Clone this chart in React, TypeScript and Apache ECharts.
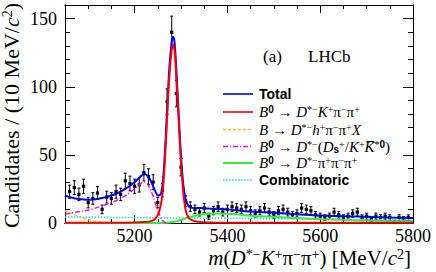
import React, { useEffect, useRef } from 'react';
import * as echarts from 'echarts';

// ---- data: B0 -> D*- K+ pi- pi+ invariant mass, 10 MeV bins ----
const binMass = [
  5060, 5070, 5080, 5090, 5100, 5110, 5120, 5130, 5140, 5150,
  5160, 5170, 5180, 5190, 5200, 5210, 5220, 5230, 5240, 5250,
  5260, 5270, 5280, 5290, 5300, 5310, 5320, 5330, 5340, 5350,
  5360, 5370, 5380, 5390, 5400, 5410, 5420, 5430, 5440, 5450,
  5460, 5470, 5480, 5490, 5500, 5510, 5520, 5530, 5540, 5550,
  5560, 5570, 5580, 5590, 5600, 5610, 5620, 5630, 5640, 5650,
  5660, 5670, 5680, 5690, 5700, 5710, 5720, 5730, 5740, 5750,
  5760, 5770, 5780, 5790,
];
const candidates = [
  23, 26, 21, 27, 15, 18, 22, 10, 19, 18,
  23, 21, 31, 29, 27, 28, 37, 34, 30, 15,
  24, 89, 140, 95, 41, 16, 12, 10, 8, 11,
  5, 9, 12, 8, 10, 12, 11, 10, 12, 9,
  7, 9, 11, 8, 6, 9, 10, 8, 6, 7,
  11, 10, 9, 6, 5, 4, 5, 8, 6, 4,
  5, 7, 8, 4, 5, 3, 5, 4, 5, 4,
  1, 4, 3, 4,
];

// Total fit
const totalMass = [5050, 5060, 5070, 5080, 5090, 5100, 5110, 5120, 5130, 5140, 5150, 5160, 5170, 5180, 5190, 5200, 5210,
  5215, 5220, 5225, 5230, 5235, 5240, 5245, 5250, 5255, 5260, 5265, 5270, 5275, 5280, 5283, 5286,
  5290, 5295, 5300, 5305, 5310, 5315, 5320, 5330, 5340, 5350, 5360, 5380, 5400,
  5450, 5500, 5550, 5600, 5650, 5700, 5750, 5800];
const totalFit = [20, 19, 18.2, 17.6, 17.2, 17, 17.2, 17.6, 18.3, 19.2, 20.2, 21.5, 23, 25, 27.3, 30, 33.2,
  34.8, 35.8, 35.5, 33.8, 30.8, 27, 23, 20.3, 20.5, 27, 50, 83, 114, 133, 136.5, 133,
  112, 80, 49, 28, 17.5, 13, 11.5, 11, 11, 10.8, 10.6, 10.3, 10,
  8.4, 7.5, 6.5, 5.5, 5, 4.5, 4, 3.7];

// Signal B0 -> D*- K+ pi- pi+
const signalMass = [5050, 5150, 5200, 5220, 5230, 5240, 5245, 5250, 5255, 5260, 5265, 5270, 5275, 5280, 5283, 5286,
  5290, 5295, 5300, 5305, 5310, 5315, 5320, 5330, 5345, 5370, 5450, 5800];
const signalFit = [0.1, 0.2, 0.4, 0.7, 1, 2, 3.5, 6, 11, 21, 44, 77, 108, 127, 131, 127,
  106, 75, 44, 22, 9.5, 4.5, 2.6, 1.3, 0.6, 0.3, 0.2, 0.1];

// B -> D*- h+ pi- pi+ X
const partRecoMass = [5050, 5060, 5070, 5080, 5090, 5100, 5110, 5120, 5130, 5140, 5150, 5170, 5200];
const partRecoFit = [9, 7.5, 6, 4.6, 3.4, 2.4, 1.6, 1, 0.6, 0.3, 0.1, 0, 0];

// B0 -> D*- (Ds+ / K+ K*0bar)
const dsMass = [5050, 5075, 5100, 5125, 5150, 5175, 5200, 5210, 5215, 5220, 5225, 5230, 5235, 5240, 5245, 5250, 5255, 5260, 5265, 5270];
const dsFit = [6.5, 8, 9.5, 12, 15, 19, 25, 28, 29.5, 30, 29.5, 27.5, 24, 19.5, 14, 9.5, 5, 1.8, 0.5, 0];

// B0 -> D*- pi+ pi- pi+ (misID)
const misIdMass = [5050, 5250, 5270, 5280, 5290, 5300, 5310, 5320, 5330, 5340, 5350, 5360, 5380, 5400, 5420, 5450,
  5500, 5550, 5600, 5650, 5700, 5750, 5800];
const misIdFit = [0, 0, 0.2, 0.6, 1.3, 2.3, 3.4, 4.5, 5.3, 6, 6.5, 6.8, 7, 6.8, 6.4, 5.4,
  4.5, 3.6, 2.8, 2.3, 1.9, 1.5, 1.2];

// Combinatoric
const combMass = [5050, 5200, 5300, 5400, 5500, 5600, 5700, 5800];
const combFit = [4.4, 4, 3.7, 3.4, 3.1, 2.8, 2.5, 2.3];

const xTickLabels = [5200, 5400, 5600, 5800];
const xMajorTicks = [5200, 5400, 5600];
const yTickLabels = [0, 50, 100, 150];
const yMajorTicks = [50, 100, 150];

const X_MIN = 5050, X_MAX = 5800, Y_MIN = 0, Y_MAX = 160;

const SERIF = 'Liberation Serif';
const SANS = 'Liberation Sans';

const pairs = (xs: number[], ys: number[]) => xs.map((x, i) => [x, ys[i]]);

function richSet(size: number, supSize: number) {
  return {
    i: { fontFamily: SERIF, fontStyle: 'italic', fontSize: size, lineHeight: size, fill: '#000' },
    r: { fontFamily: SERIF, fontSize: size, lineHeight: size, fill: '#000' },
    sup: { fontFamily: SERIF, fontSize: supSize, lineHeight: supSize, verticalAlign: 'top', fill: '#000' },
    supb: { fontFamily: SANS, fontWeight: 'bold', fontSize: supSize, lineHeight: supSize, verticalAlign: 'top', fill: '#000' },
    subb: { fontFamily: SANS, fontWeight: 'bold', fontSize: supSize, lineHeight: supSize, verticalAlign: 'bottom', fill: '#000' },
  };
}

export default function App() {
  const ref = useRef<HTMLDivElement>(null);
  useEffect(() => {
    if (!ref.current) return;
    const chart = echarts.init(ref.current, undefined, { renderer: 'svg' });

    const axisLine = { show: true, onZero: false, lineStyle: { color: '#000', width: 1 } };
    const baseX = { type: 'value', min: X_MIN, max: X_MAX, splitLine: { show: false }, axisLine };
    const baseY = { type: 'value', min: Y_MIN, max: Y_MAX, splitLine: { show: false }, axisLine };
    const plain = (v: number) => String(v);

    const curve = (name: string, xs: number[], ys: number[], color: string, width: number, type: any) => ({
      name,
      type: 'line',
      data: pairs(xs, ys),
      showSymbol: false,
      symbol: 'none',
      smooth: 0.35,
      lineStyle: { color, width, type },
      silent: true,
    });

    const legendY = [94, 112, 129.5, 146.5, 163, 180];
    const legendStyles = [
      { color: '#0000ff', width: 1.6, dash: null },
      { color: '#ff0000', width: 1.6, dash: null },
      { color: '#ffc020', width: 1.5, dash: [3, 2] },
      { color: '#ff00ff', width: 1.5, dash: [5, 2, 1, 2] },
      { color: '#33ee33', width: 2, dash: null },
      { color: '#00e5e5', width: 1.5, dash: [1.5, 1.5] },
    ];
    const legendTexts = [
      '{t|Total}',
      '{i|B}{supb|0}{r| → }{i|D}{sup|*−}{i|K}{sup|+}{r|π}{sup|−}{r|π}{sup|+}',
      '{i|B}{r| → }{i|D}{sup|*−}{i|h}{sup|+}{r|π}{sup|−}{r|π}{sup|+}{i|X}',
      '{i|B}{supb|0}{r| → }{i|D}{sup|*−}{r|(}{i|D}{subb|s}{sup|+}{r|/}{i|K}{sup|+}{i|K\u0305}{sup|*}{supb|0}{r|)}',
      '{i|B}{supb|0}{r| → }{i|D}{sup|*−}{r|π}{sup|+}{r|π}{sup|−}{r|π}{sup|+}',
      '{t|Combinatoric}',
    ];
    const lr: any = { ...richSet(15, 10), t: { fontFamily: SANS, fontWeight: 'bold', fontSize: 14, lineHeight: 15, fill: '#000' } };

    const graphicEls: any[] = [];
    legendY.forEach((y, k) => {
      const s = legendStyles[k];
      graphicEls.push({
        type: 'line',
        shape: { x1: 223, y1: y, x2: 253, y2: y },
        style: { stroke: s.color, lineWidth: s.width, lineDash: s.dash || undefined },
        silent: true,
      });
      graphicEls.push({
        type: 'text',
        x: 259,
        y: y,
        style: { text: legendTexts[k], rich: lr, align: 'left', verticalAlign: 'middle', fill: '#000' },
        silent: true,
      });
    });
    graphicEls.push({
      type: 'text', x: 263, y: 56,
      style: { text: '(a)', fontFamily: SERIF, fontSize: 17, fill: '#000', align: 'left', verticalAlign: 'middle' },
    });
    graphicEls.push({
      type: 'text', x: 308, y: 56,
      style: { text: 'LHCb', fontFamily: SERIF, fontSize: 17, fill: '#000', align: 'left', verticalAlign: 'middle' },
    });
    const xr: any = richSet(21, 14);
    graphicEls.push({
      type: 'text', x: 411, y: 258,
      style: {
        text: '{i|m}{r|(}{i|D}{sup|*−}{i|K}{sup|+}{r|π}{sup|−}{r|π}{sup|+}{r|) [MeV/}{i|c}{sup|2}{r|]}',
        rich: xr, align: 'right', verticalAlign: 'middle', fill: '#000',
      },
    });
    const yr: any = richSet(22, 14);
    graphicEls.push({
      type: 'text', x: 11, y: 3, rotation: Math.PI / 2,
      style: {
        text: '{r|Candidates / (10 MeV/}{i|c}{sup|2}{r|)}',
        rich: yr, align: 'right', verticalAlign: 'middle', fill: '#000',
      },
    });

    const option: any = {
      animation: false,
      textStyle: { fontFamily: SERIF },
      grid: { left: 65, right: 23, top: 5, bottom: 49, containLabel: false },
      xAxis: [
        { ...baseX, position: 'bottom', interval: 50, axisTick: { inside: true, length: 4, lineStyle: { color: '#000' } }, axisLabel: { show: false } },
        {
          ...baseX, position: 'bottom',
          axisTick: { inside: true, length: 8, customValues: xMajorTicks, lineStyle: { color: '#000' } },
          axisLabel: { customValues: xTickLabels, formatter: plain, fontFamily: SERIF, fontSize: 18, color: '#000', margin: 4 },
        },
        { ...baseX, position: 'top', interval: 50, axisTick: { inside: true, length: 4, lineStyle: { color: '#000' } }, axisLabel: { show: false } },
        { ...baseX, position: 'top', axisTick: { inside: true, length: 8, customValues: xMajorTicks, lineStyle: { color: '#000' } }, axisLabel: { show: false } },
      ],
      yAxis: [
        { ...baseY, position: 'left', interval: 10, axisTick: { inside: true, length: 5, lineStyle: { color: '#000' } }, axisLabel: { show: false } },
        {
          ...baseY, position: 'left',
          axisTick: { inside: true, length: 10, customValues: yMajorTicks, lineStyle: { color: '#000' } },
          axisLabel: { customValues: yTickLabels, formatter: plain, fontFamily: SERIF, fontSize: 18, color: '#000', margin: 8 },
        },
        { ...baseY, position: 'right', interval: 10, axisTick: { inside: true, length: 5, lineStyle: { color: '#000' } }, axisLabel: { show: false } },
        { ...baseY, position: 'right', axisTick: { inside: true, length: 10, customValues: yMajorTicks, lineStyle: { color: '#000' } }, axisLabel: { show: false } },
      ],
      series: [
        curve('Combinatoric', combMass, combFit, '#00e5e5', 1.5, [1.5, 1.5]),
        curve('B → D*− h+ π− π+ X', partRecoMass, partRecoFit, '#ffc020', 1.5, [3, 2]),
        curve('B0 → D*− π+ π− π+', misIdMass, misIdFit, '#33ee33', 2, 'solid'),
        curve('B0 → D*− (Ds+/K+ K*0)', dsMass, dsFit, '#ff00ff', 1.5, [5, 2, 1, 2]),
        curve('Total', totalMass, totalFit, '#0000ff', 2, 'solid'),
        curve('B0 → D*− K+ π− π+', signalMass, signalFit, '#ff0000', 2, 'solid'),
        {
          name: 'Data',
          type: 'custom',
          data: pairs(binMass, candidates),
          encode: { x: 0, y: 1 },
          silent: true,
          renderItem: (params: any, api: any) => {
            const x = api.value(0);
            const y = api.value(1);
            const e = Math.sqrt(y);
            const c = api.coord([x, y]);
            const t = api.coord([x, y + e]);
            const b = api.coord([x, Math.max(0, y - e)]);
            const st = { stroke: '#000', lineWidth: 1 };
            return {
              type: 'group',
              children: [
                { type: 'line', shape: { x1: t[0], y1: t[1], x2: b[0], y2: b[1] }, style: st },
                { type: 'line', shape: { x1: t[0] - 1.5, y1: t[1], x2: t[0] + 1.5, y2: t[1] }, style: st },
                { type: 'line', shape: { x1: b[0] - 1.5, y1: b[1], x2: b[0] + 1.5, y2: b[1] }, style: st },
                { type: 'rect', shape: { x: c[0] - 1.6, y: c[1] - 1.6, width: 3.2, height: 3.2 }, style: { fill: '#000' } },
              ],
            };
          },
        },
      ],
      graphic: { elements: graphicEls },
    };
    chart.setOption(option);
    return () => chart.dispose();
  }, []);
  return <div ref={ref} style={{ position: 'absolute', left: 0, top: 0, width: 436, height: 272 }} />;
}
